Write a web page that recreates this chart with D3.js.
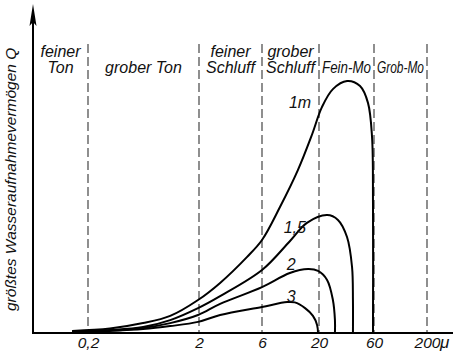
<!DOCTYPE html>
<html>
<head>
<meta charset="utf-8">
<script src="https://cdn.jsdelivr.net/npm/d3@7"></script>
<style>
  html, body { margin: 0; padding: 0; background: #fff; }
  svg { display: block; }
  text { font-family: "Liberation Sans", Arial, sans-serif; font-style: italic; fill: #111; }
</style>
</head>
<body>
<svg id="chart" width="457" height="353"></svg>
<script>
// ---- data ----
const tickValues = [0.2, 2, 6, 20, 60, 200];
const tickLabels = ["0,2", "2", "6", "20", "60", "200"];
const unitLabel = "μ";
const yLabel = "größtes Wasseraufnahmevermögen Q";

const regionBounds = [null, 0.2, 2, 6, 20, 60, 200];
const regionLabels = [["feiner", "Ton"], ["grober Ton"], ["feiner", "Schluff"], ["grober", "Schluff"], ["Fein-Mo"], ["Grob-Mo"]];

const seriesNames = ["1m", "1,5", "2", "3"];
// [grain size in μ, relative water capacity]
const series1m = [[0.144,0.7],[0.315,1.5],[0.627,3.3],[1.10,5.7],[1.96,11],[2.89,16.7],[4.61,25.3],[6.0,31],[8.77,42],[12.8,54.3],[17.2,66],[21.2,75.3],[26.4,81.3],[35,84],[45.4,82.3],[53.2,76.7],[57.7,65.3],[58.8,43.3],[58.8,0]];
const series15 = [[0.144,0.5],[0.315,1],[0.627,2],[1.10,4.3],[1.96,8.3],[2.89,12.3],[6.0,21],[10.8,30.6],[15.5,36.7],[23.5,39.3],[29.2,37.7],[35,32],[38.7,22],[39.4,11],[39.4,0]];
const series2 = [[0.144,0.5],[0.315,0.8],[0.627,1.7],[1.10,3.3],[1.96,6],[2.89,9.7],[6.0,15.3],[10.8,20],[15.9,21.3],[19.6,20.7],[23.5,17.7],[26.4,11],[27.5,4.3],[27.5,0]];
const series3 = [[0.144,0.3],[0.315,0.7],[0.627,1.3],[1.10,2.3],[1.96,3.7],[2.89,6],[6.0,8.7],[10.2,10.3],[12.0,10.2],[14.9,8.3],[17.6,5.7],[19.2,2.7],[19.6,0]];
const seriesLabelPos = [[13.4,75],[12.0,33.3],[11.1,21],[11.1,10.3]];

// ---- chart ----
const svg = d3.select("#chart");
const x = d3.scaleLog().domain(tickValues).range([88, 199, 262, 319, 374, 427]);
const y = d3.scaleLinear().domain([0, 100]).range([333, 33]);
const axisX = 33, axisRight = 453, dashTop = 96.3;

// dashed boundaries
svg.append("g").selectAll("line").data(tickValues).join("line")
  .attr("x1", d => x(d)).attr("x2", d => x(d))
  .attr("y1", y(dashTop)).attr("y2", y(0))
  .attr("stroke", "#333").attr("stroke-width", 1.1).attr("stroke-dasharray", "9,4");

// region labels
const regionG = svg.append("g");
regionLabels.forEach((lines, i) => {
  const left = regionBounds[i] == null ? axisX : x(regionBounds[i]);
  const right = x(regionBounds[i + 1]);
  const cx = (left + right) / 2;
  const baseY = lines.length === 2 ? 57 : 73;
  lines.forEach((s, j) => {
    const t = regionG.append("text").attr("text-anchor", "middle").attr("font-size", 16)
      .attr("transform", `translate(${cx},${baseY + j * 16})`).text(s);
    const w = t.node().getComputedTextLength();
    const maxW = (right - left) - 6;
    if (w > maxW) t.attr("transform", `translate(${cx},${baseY + j * 16}) scale(${maxW / w},1)`);
  });
});

// curves
const line = d3.line().x(d => x(d[0])).y(d => y(d[1])).curve(d3.curveCatmullRom.alpha(0.5));
const allSeries = [series1m, series15, series2, series3];
svg.append("g").selectAll("path").data(allSeries).join("path")
  .attr("d", line).attr("fill", "none").attr("stroke", "#000").attr("stroke-width", 2);

// curve labels
svg.append("g").selectAll("text").data(seriesNames).join("text")
  .attr("x", (d, i) => x(seriesLabelPos[i][0])).attr("y", (d, i) => y(seriesLabelPos[i][1]))
  .attr("text-anchor", "middle").attr("font-size", 16).text(d => d);

// x axis
svg.append("line").attr("x1", axisX - 1).attr("x2", axisRight).attr("y1", y(0)).attr("y2", y(0))
  .attr("stroke", "#000").attr("stroke-width", 2);
const xa = svg.append("g").attr("transform", `translate(0,${y(0)})`)
  .call(d3.axisBottom(x).tickValues(tickValues).tickSize(0).tickPadding(15)
    .tickFormat((d, i) => tickLabels[i]));
xa.select(".domain").remove();
xa.selectAll("text").attr("font-size", 15.5).attr("font-family", null).attr("fill", "#111").attr("dy", "0");
svg.append("text").attr("x", x(200) + 13).attr("y", y(0) + 15).attr("font-size", 17).text(unitLabel);

// y axis with arrow
svg.append("line").attr("x1", axisX).attr("x2", axisX).attr("y1", y(0) + 1).attr("y2", 20)
  .attr("stroke", "#000").attr("stroke-width", 2);
svg.append("path").attr("d", d3.line()([[axisX, 4], [axisX - 3.5, 26], [axisX, 22], [axisX + 3.5, 26]]) + "Z")
  .attr("fill", "#000");

svg.append("text").attr("transform", `translate(15.5,${y(0) - 22}) rotate(-90)`)
  .attr("font-size", 15.5).attr("text-anchor", "start").text(yLabel);
</script>
</body>
</html>
